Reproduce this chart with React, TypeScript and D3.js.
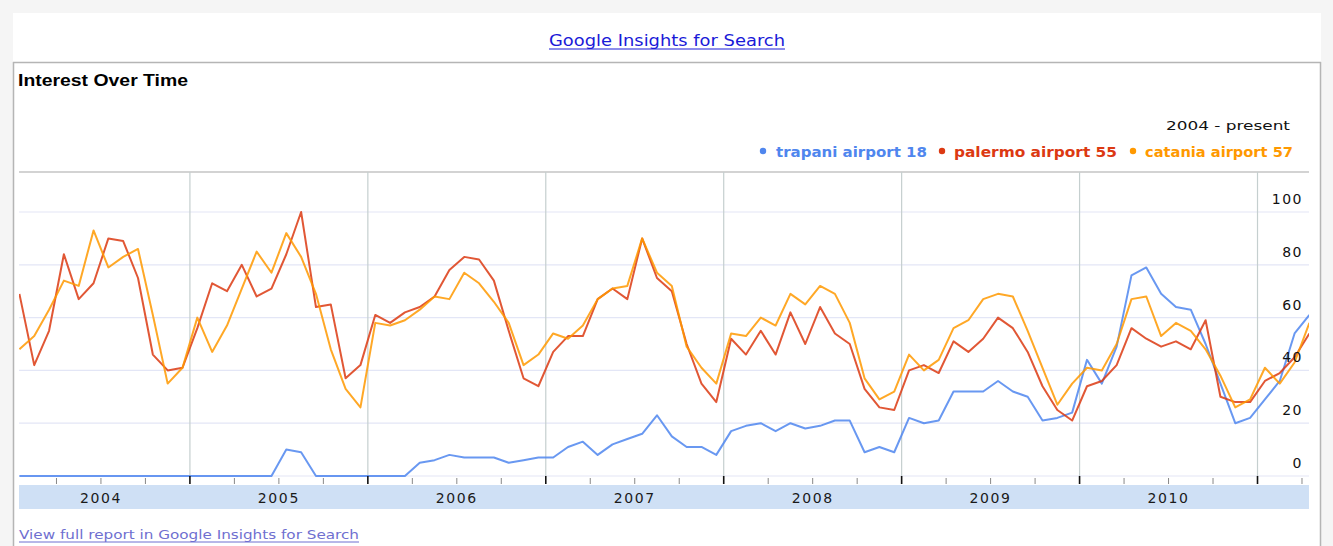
import React from "react";
import * as d3 from "d3";

// monthly values, Jan 2004 .. Apr 2011
const trapani = [
  0, 0, 0, 0, 0, 0, 0, 0, 0, 0, 0, 0,
  0, 0, 0, 0, 0, 0, 10, 9, 0, 0, 0, 0,
  0, 0, 0, 5, 6, 8, 7, 7, 7, 5, 6, 7,
  7, 11, 13, 8, 12, 14, 16, 23, 15, 11, 11, 8,
  17, 19, 20, 17, 20, 18, 19, 21, 21, 9, 11, 9,
  22, 20, 21, 32, 32, 32, 36, 32, 30, 21, 22, 24,
  44, 35, 49, 76, 79, 69, 64, 63, 50, 35, 20, 22,
  29, 36, 54, 61,
];
const palermo = [
  69, 42, 55, 84, 67, 73, 90, 89, 75, 46, 40, 41,
  56, 73, 70, 80, 68, 71, 84, 100, 64, 65, 37, 42,
  61, 58, 62, 64, 68, 78, 83, 82, 74, 55, 37, 34,
  47, 53, 53, 67, 71, 67, 90, 75, 70, 50, 35, 28,
  52, 46, 55, 46, 62, 50, 64, 54, 50, 33, 26, 25,
  40, 42, 39, 51, 47, 52, 60, 56, 47, 34, 25, 21,
  34, 36, 42, 56, 52, 49, 51, 48, 59, 30, 28, 28,
  36, 39, 45, 54,
];
const catania = [
  48, 53, 63, 74, 72, 93, 79, 83, 86, 61, 35, 41,
  60, 47, 57, 71, 85, 77, 92, 83, 69, 48, 33, 26,
  58, 57, 59, 63, 68, 67, 77, 73, 66, 58, 42, 46,
  54, 52, 57, 67, 71, 72, 90, 77, 72, 49, 41, 35,
  54, 53, 60, 57, 69, 65, 72, 69, 58, 37, 29, 32,
  46, 40, 44, 56, 59, 67, 69, 68, 55, 41, 27, 35,
  41, 40, 50, 67, 68, 53, 58, 55, 48, 38, 26, 29,
  41, 35, 43, 58,
];
const years = ["2004", "2005", "2006", "2007", "2008", "2009", "2010"];
const yTicks = [0, 20, 40, 60, 80, 100];

const series = [
  { name: "trapani airport", avg: 18, color: "#4f86ee", values: trapani },
  { name: "palermo airport", avg: 55, color: "#dc3912", values: palermo },
  { name: "catania airport", avg: 57, color: "#ff9900", values: catania },
];

const W = 1333;
const H = 546;
const plotL = 19;
const plotR = 1309;
const plotT = 172;
const plotB = 476;
const verdana = "'DejaVu Sans', Verdana, sans-serif";

export default function App() {
  const x = d3.scaleLinear().domain([0, 87]).range([19.4, 1309.4]);
  const y = d3.scaleLinear().domain([0, 100]).range([plotB, 212]);
  const line = d3
    .line<number>()
    .x((_, i) => x(i))
    .y((d) => y(d));

  const nMonths = trapani.length;
  const quarters = d3.range(3, nMonths + 1, 3);
  const legendPos = [
    { dot: 763, text: 776, len: 151 },
    { dot: 942, text: 954, len: 163 },
    { dot: 1133, text: 1145, len: 148 },
  ];

  return (
    <svg
      width={W}
      height={H}
      style={{ position: "absolute", left: 0, top: 0, display: "block" }}
    >
      <rect width={W} height={H} fill="#f5f5f5" />
      <rect x={13} y={13} width={1308} height={H - 13} fill="#fff" />

      {/* header link */}
      <text
        x={549}
        y={46}
        fontFamily={verdana}
        fontSize={15}
        fill="#1a1ad8"
        textLength={236}
        lengthAdjust="spacingAndGlyphs"
      >
        Google Insights for Search
      </text>
      <line x1={549} x2={785} y1={49} y2={49} stroke="#1a1ad8" strokeWidth={1} />

      {/* frame */}
      <line x1={13} x2={1321} y1={62.5} y2={62.5} stroke="#b5b5b5" strokeWidth={1.5} />
      <line x1={13.5} x2={13.5} y1={62} y2={H} stroke="#b5b5b5" strokeWidth={1.5} />
      <line x1={1320.5} x2={1320.5} y1={62} y2={H} stroke="#b5b5b5" strokeWidth={1.5} />

      <text
        x={18}
        y={86}
        fontFamily="Arial, 'Liberation Sans', sans-serif"
        fontWeight="bold"
        fontSize={17}
        fill="#000"
        textLength={170}
        lengthAdjust="spacingAndGlyphs"
      >
        Interest Over Time
      </text>
      <text
        x={1166}
        y={130}
        fontFamily={verdana}
        fontSize={13}
        fill="#111"
        textLength={124}
        lengthAdjust="spacingAndGlyphs"
      >
        2004 - present
      </text>

      {/* legend */}
      {series.map((s, k) => (
        <g key={s.name}>
          <circle cx={legendPos[k].dot} cy={151} r={3.2} fill={s.color} />
          <text
            x={legendPos[k].text}
            y={156.5}
            fontFamily={verdana}
            fontWeight="bold"
            fontSize={14}
            fill={s.color}
            textLength={legendPos[k].len}
            lengthAdjust="spacingAndGlyphs"
          >
            {`${s.name} ${s.avg}`}
          </text>
        </g>
      ))}

      {/* plot frame + grid */}
      <line x1={plotL} x2={plotR} y1={plotT} y2={plotT} stroke="#c4c4c4" strokeWidth={1.5} />
      {yTicks.map((t) => (
        <line
          key={t}
          x1={plotL}
          x2={plotR}
          y1={y(t)}
          y2={y(t)}
          stroke="#e3e6f6"
          strokeWidth={1.2}
        />
      ))}
      {years.slice(1).concat(["2011"]).map((yr, k) => {
        const xx = x(12 * (k + 1) - 0.5);
        return (
          <line
            key={yr}
            x1={xx}
            x2={xx}
            y1={plotT}
            y2={plotB}
            stroke="#c5cfcf"
            strokeWidth={1.2}
          />
        );
      })}

      {/* series */}
      <defs>
        <clipPath id="plotClip">
          <rect x={plotL} y={plotT} width={plotR - plotL} height={plotB - plotT + 4} />
        </clipPath>
      </defs>
      <g clipPath="url(#plotClip)">
        {series.map((s) => (
          <path
            key={s.name}
            d={line(s.values) || ""}
            fill="none"
            stroke={s.color}
            strokeOpacity={0.85}
            strokeWidth={2}
            strokeLinejoin="round"
          />
        ))}
      </g>

      {/* y labels */}
      {yTicks.map((t) => (
        <text
          key={t}
          x={1303}
          y={y(t) - 8}
          textAnchor="end"
          fontFamily={verdana}
          fontSize={14}
          letterSpacing={1.5}
          fill="#111"
        >
          {t}
        </text>
      ))}

      {/* x axis ticks */}
      {quarters.map((q) => {
        const xx = x(q - 0.5);
        const isYear = q % 12 === 0;
        return (
          <line
            key={q}
            x1={xx}
            x2={xx}
            y1={isYear ? plotB : plotB + 2}
            y2={plotB + 8}
            stroke={isYear ? "#111" : "#888"}
            strokeWidth={isYear ? 1.6 : 1}
          />
        );
      })}
      <rect x={plotL} y={485} width={plotR - plotL} height={24} fill="#cfe0f5" />
      {years.map((yr, k) => (
        <text
          key={yr}
          x={x(12 * k + 5.5)}
          y={502.5}
          textAnchor="middle"
          fontFamily={verdana}
          fontSize={14}
          letterSpacing={1.6}
          fill="#1a1a1a"
        >
          {yr}
        </text>
      ))}

      {/* footer link */}
      <text
        x={19}
        y={539}
        fontFamily={verdana}
        fontSize={13}
        fill="#6f6fd0"
        textLength={340}
        lengthAdjust="spacingAndGlyphs"
      >
        View full report in Google Insights for Search
      </text>
      <line x1={19} x2={359} y1={542} y2={542} stroke="#6f6fd0" strokeWidth={1} />
    </svg>
  );
}
